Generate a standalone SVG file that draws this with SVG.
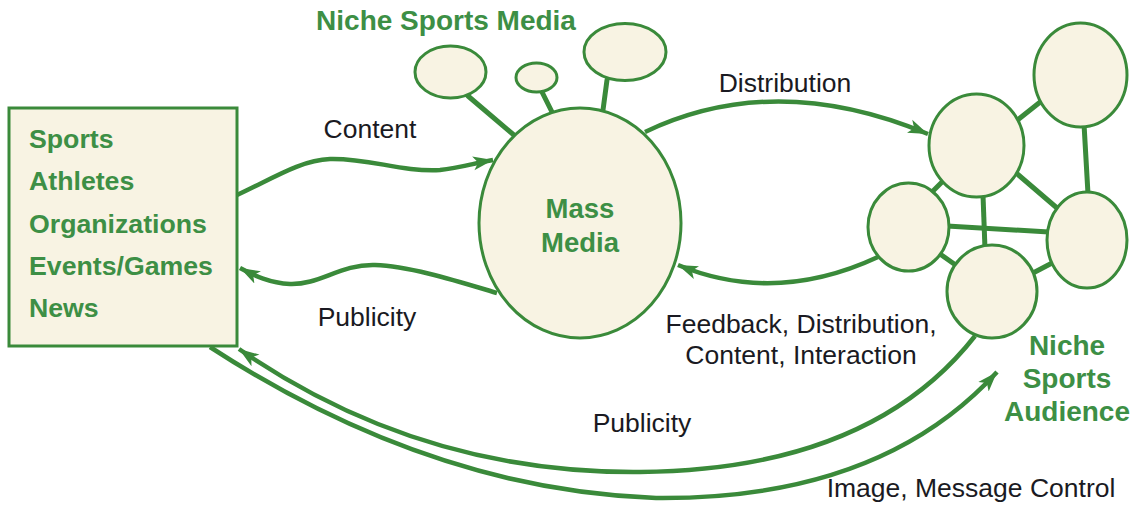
<svg xmlns="http://www.w3.org/2000/svg" width="1135" height="507" viewBox="0 0 1135 507">
<style>
.bub{fill:#f8f3e3;stroke:#3a8a3a;stroke-width:3}
.link{stroke:#3a8a3a;stroke-width:5;fill:none;stroke-linecap:round}
.arr{stroke:#3a8a3a;stroke-width:4.5;fill:none;marker-end:url(#ah)}
.g{font-family:"Liberation Sans",Arial,sans-serif;font-weight:bold;fill:#3d8f45}
.t{font-family:"Liberation Sans",Arial,sans-serif;font-size:26.5px;fill:#1a1a22}
</style>
<defs>
<marker id="ah" markerUnits="userSpaceOnUse" markerWidth="22" markerHeight="16" refX="20" refY="7" orient="auto" viewBox="0 0 22 14">
<path d="M0,0 L20,7 L0,14 L5,7 z" fill="#3a8a3a"/>
</marker>
</defs>

<g id="connectors">
<!-- niche media stems -->
<line class="link" x1="468" y1="96" x2="515" y2="136"/>
<line class="link" x1="542" y1="92" x2="552" y2="112"/>
<line class="link" x1="607" y1="80" x2="603" y2="110"/>
<!-- audience network edges -->
<line class="link" x1="1015" y1="122" x2="1044" y2="99"/>
<line class="link" x1="1084" y1="124" x2="1088" y2="194"/>
<line class="link" x1="1015" y1="172" x2="1057" y2="208"/>
<line class="link" x1="944" y1="180" x2="930" y2="194"/>
<line class="link" x1="983" y1="195" x2="985" y2="249"/>
<line class="link" x1="947" y1="226" x2="1049" y2="232"/>
<line class="link" x1="940" y1="254" x2="957" y2="266"/>
<line class="link" x1="1033" y1="273" x2="1054" y2="262"/>
<!-- arrows -->
<path class="arr" d="M237,195 C270,180 300,160 330,159 C370,158 400,172 440,170 C460,168 475,163 493,160"/>
<path class="arr" d="M497,293 C460,282 410,266 375,265 C340,264 320,285 290,284 C270,283 255,276 240,268"/>
<path class="arr" d="M645,132 Q775,70 928,134"/>
<path class="arr" d="M878,257 Q775,305 678,265"/>
<path class="arr" d="M975,336 Q870,470 640,472 Q420,474 239,349"/>
<path class="arr" d="M210,347 Q430,490 656,498 Q880,500 997,372"/>
</g>

<g id="node-sources">
<rect x="9" y="108" width="228" height="238" fill="#f8f3e3" stroke="#3a8a3a" stroke-width="3"/>
<text class="g" font-size="26.7" x="29" y="148">Sports</text>
<text class="g" font-size="26.7" x="29" y="190">Athletes</text>
<text class="g" font-size="26.7" x="29" y="233">Organizations</text>
<text class="g" font-size="26.7" x="29" y="275">Events/Games</text>
<text class="g" font-size="26.7" x="29" y="317">News</text>
</g>

<g id="node-niche-media">
<ellipse class="bub" cx="450.5" cy="72" rx="35.5" ry="26"/>
<ellipse class="bub" cx="536.5" cy="77.5" rx="20.5" ry="14.5"/>
<ellipse class="bub" cx="625" cy="52" rx="41" ry="28.5"/>
<text class="g" font-size="28" x="446" y="30" text-anchor="middle">Niche Sports Media</text>
</g>

<g id="node-mass-media">
<ellipse class="bub" cx="580" cy="223" rx="101" ry="115"/>
<text class="g" font-size="27.5" x="580" y="218" text-anchor="middle">Mass</text>
<text class="g" font-size="27.5" x="580" y="252" text-anchor="middle">Media</text>
</g>

<g id="node-audience">
<ellipse class="bub" cx="1080.5" cy="75" rx="46.5" ry="52"/>
<ellipse class="bub" cx="976.5" cy="145.5" rx="47.5" ry="51.5"/>
<ellipse class="bub" cx="908.5" cy="227" rx="40.5" ry="44"/>
<ellipse class="bub" cx="1087" cy="240" rx="40" ry="48"/>
<ellipse class="bub" cx="992" cy="291.5" rx="45" ry="46.5"/>
<text class="g" font-size="28" x="1067" y="355" text-anchor="middle">Niche</text>
<text class="g" font-size="28" x="1067" y="388" text-anchor="middle">Sports</text>
<text class="g" font-size="28" x="1067" y="421" text-anchor="middle">Audience</text>
</g>

<g id="labels">
<text class="t" x="370" y="138" text-anchor="middle">Content</text>
<text class="t" x="367" y="326" text-anchor="middle">Publicity</text>
<text class="t" x="785" y="92" text-anchor="middle">Distribution</text>
<text class="t" x="801" y="333" text-anchor="middle">Feedback, Distribution,</text>
<text class="t" x="801" y="364" text-anchor="middle">Content, Interaction</text>
<text class="t" x="642" y="432" text-anchor="middle">Publicity</text>
<text class="t" x="971" y="497" text-anchor="middle">Image, Message Control</text>
</g>
</svg>
